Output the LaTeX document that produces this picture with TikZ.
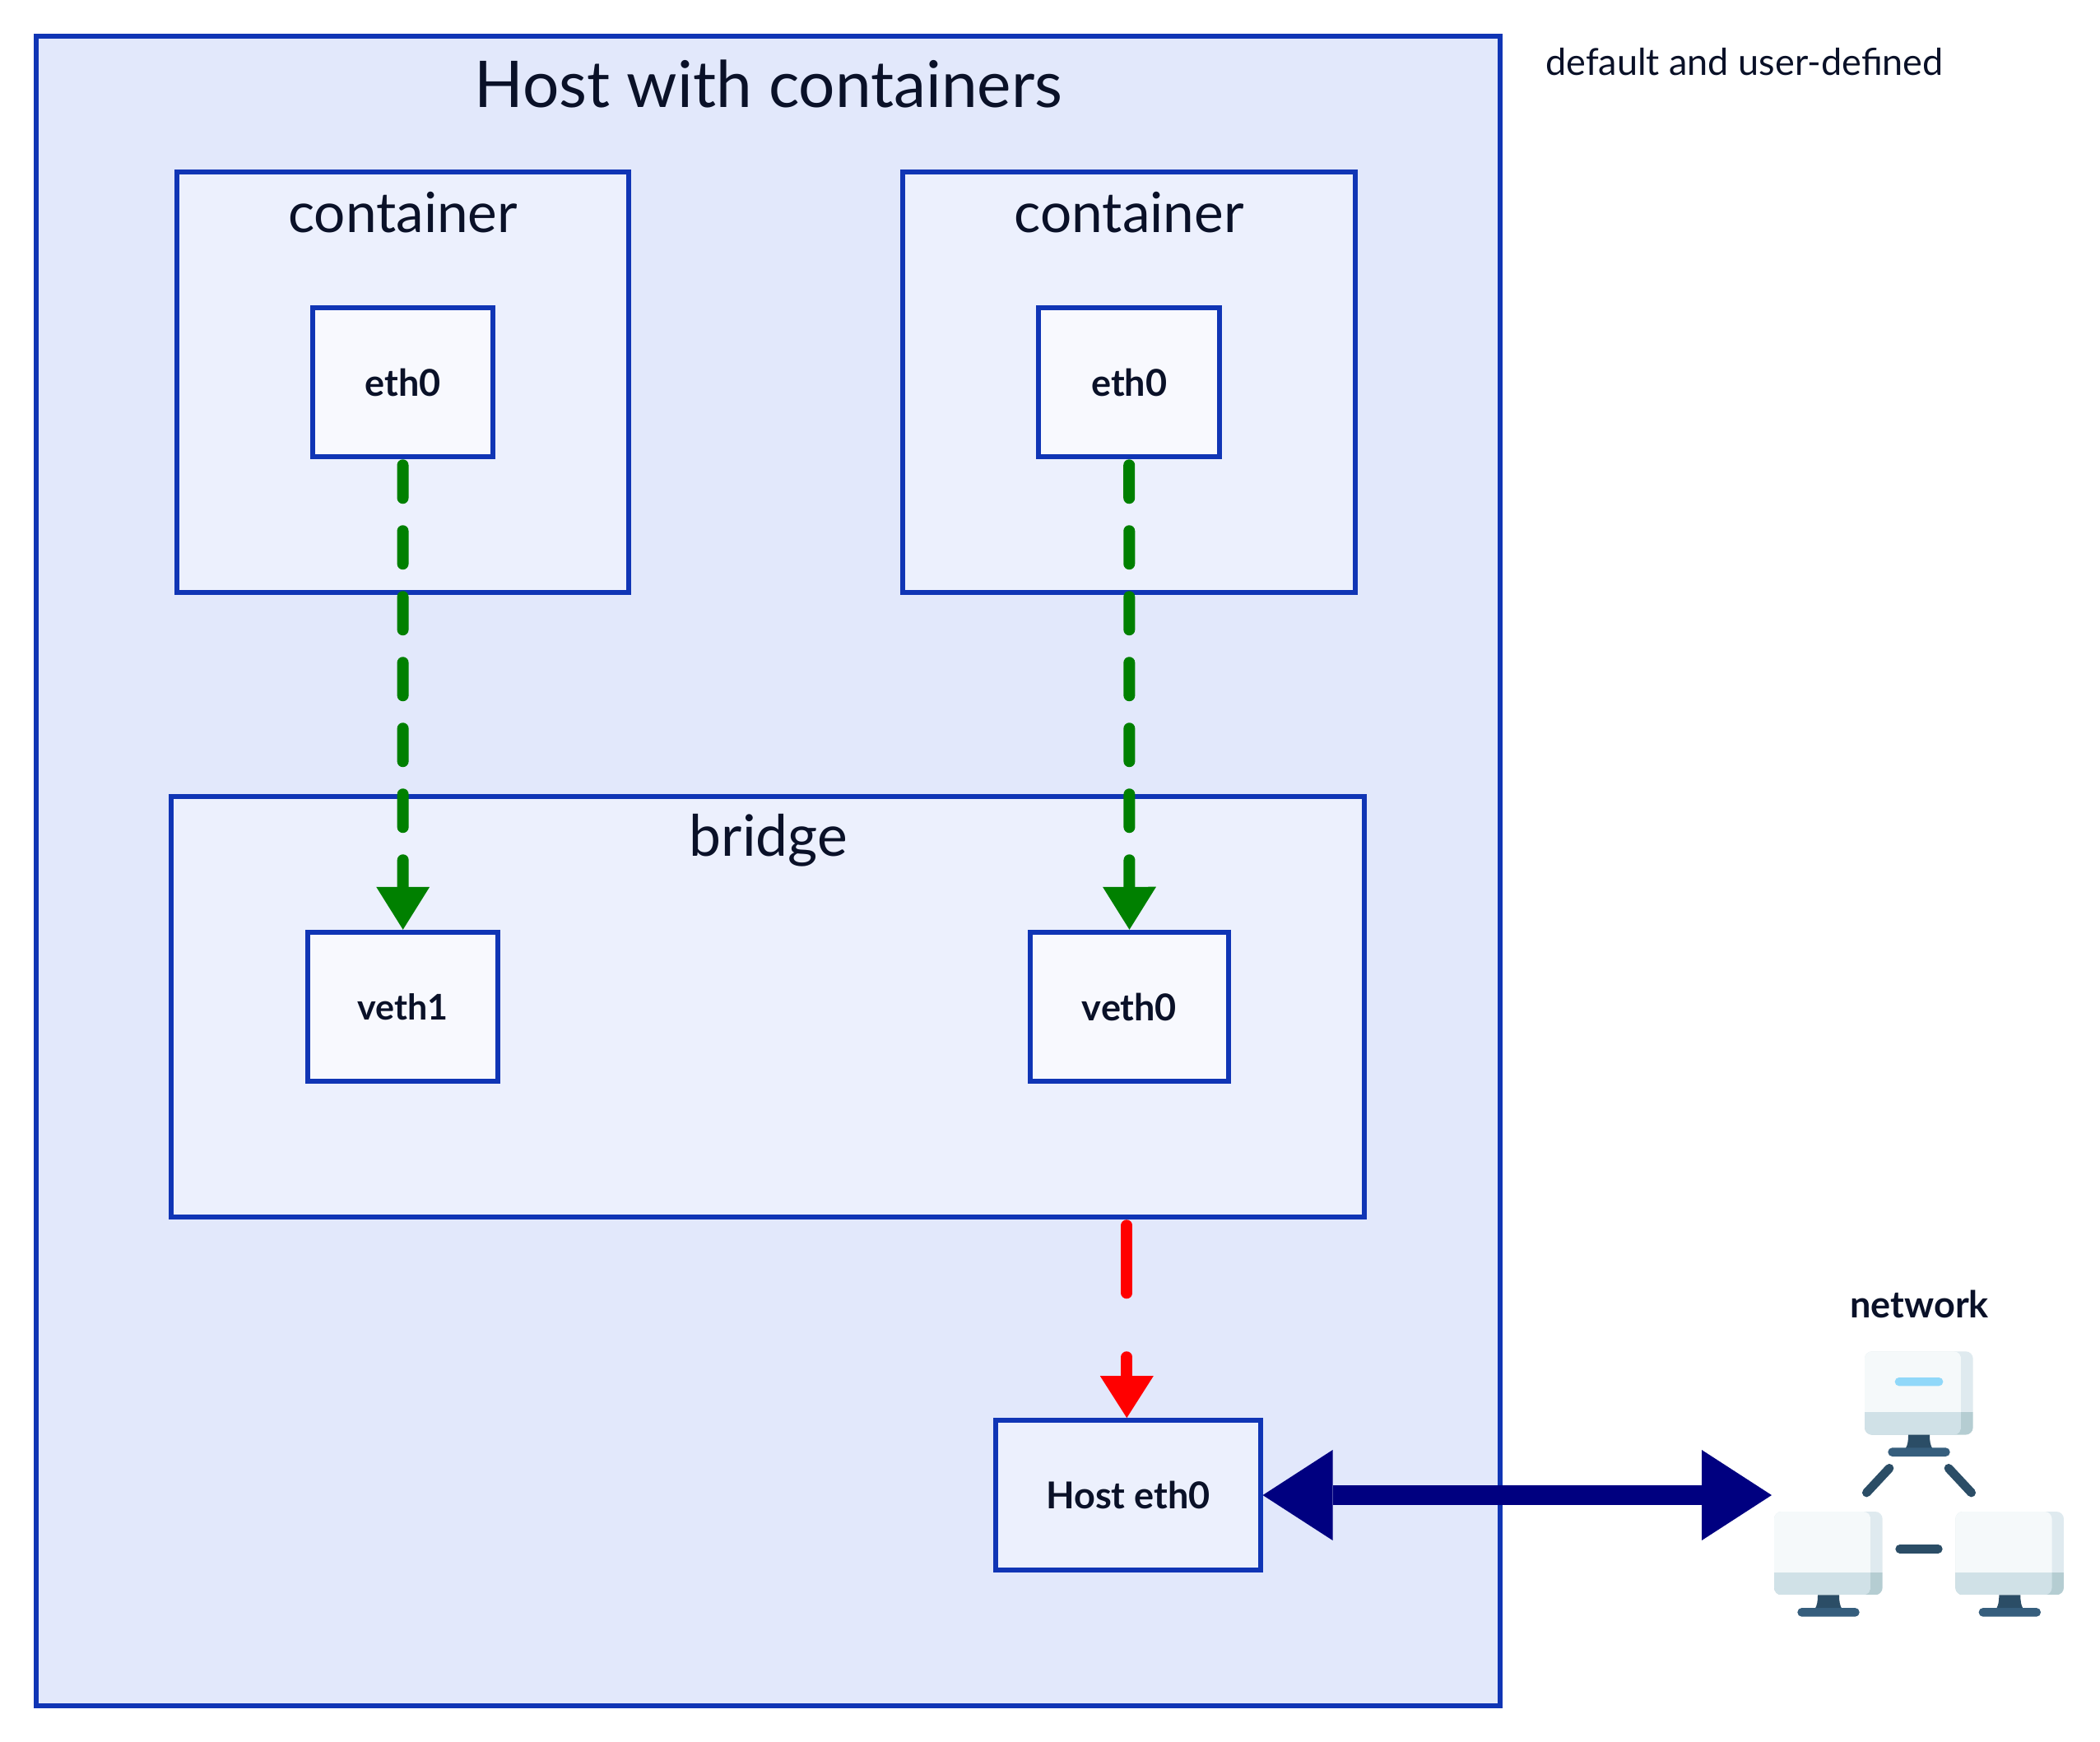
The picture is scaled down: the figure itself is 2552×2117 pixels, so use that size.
\documentclass[tikz,border=0pt]{standalone}
\usepackage{fontspec}
\setmainfont{Lato}
\usetikzlibrary{arrows.meta}
\definecolor{hostfill}{HTML}{E2E8FB}
\definecolor{contfill}{HTML}{ECF0FD}
\definecolor{innerfill}{HTML}{F8F9FE}
\definecolor{edgeblue}{HTML}{1035B5}
\definecolor{ink}{HTML}{0A1128}
\definecolor{linkgreen}{HTML}{008000}
\definecolor{linkred}{HTML}{FF0000}
\definecolor{linknavy}{HTML}{000080}
\definecolor{pcface}{HTML}{F5F9FA}
\definecolor{pcside}{HTML}{DFEAEF}
\definecolor{pcchin}{HTML}{D0E1E7}
\definecolor{pcchinside}{HTML}{B5CDD2}
\definecolor{pcstand}{HTML}{2B4D66}
\definecolor{pcbase}{HTML}{365E7D}
\definecolor{pcbar}{HTML}{90D8F9}
\tikzset{
  frame/.style={draw=edgeblue,line width=5.8pt,line join=miter,text=ink,font=\fontsize{45}{54}\selectfont\bfseries,inner sep=0pt},
  hostbox/.style={frame,fill=hostfill},
  contbox/.style={frame,fill=contfill},
  innerbox/.style={frame,fill=innerfill},
  caption/.style={anchor=base,inner sep=0pt,text=ink},
  greenlink/.style={draw=linkgreen,line width=14pt,line cap=round,dash pattern=on 40pt off 40pt,shorten <=7pt,-{Triangle[length=52pt,width=65pt,line width=0pt,fill=linkgreen]}},
  redlink/.style={draw=linkred,line width=14pt,line cap=round,dash pattern=on 82pt off 78pt,shorten <=7pt,-{Triangle[length=51pt,width=65pt,line width=0pt,fill=linkred]}},
  navylink/.style={draw=linknavy,line width=24.7pt,{Triangle[length=85pt,width=110pt,line width=0pt,fill=linknavy]}-{Triangle[length=85pt,width=110pt,line width=0pt,fill=linknavy]}},
  netlink/.style={draw=pcstand,line width=10.7pt,line cap=round},
  monitor/.pic={
    \begin{scope}
      \clip[rounded corners=9pt] (0,0) rectangle (131.7,101.3);
      \fill[pcside] (0,0) rectangle (131.7,73.7);
      \fill[pcchinside] (0,73.7) rectangle (131.7,101.3);
      \clip[rounded corners=9pt] (0,0) rectangle (117.3,101.3);
      \fill[pcface] (0,0) rectangle (117.3,73.7);
      \fill[pcchin] (0,73.7) rectangle (117.3,101.3);
    \end{scope}
    \fill[pcstand] (53,101.3) -- (79,101.3) .. controls (79,110) and (80,114) .. (82.3,118) -- (49.7,118) .. controls (52,114) and (53,110) .. (53,101.3) -- cycle;
    \fill[pcbase,rounded corners=5.3pt] (28.3,117) rectangle (103.7,127.7);
  }
}
\begin{document}
\begin{tikzpicture}[x=1pt,y=-1pt]
\useasboundingbox (0,0) rectangle (2552,2117);
\fill[white] (0,0) rectangle (2552,2117);

\node[hostbox,minimum width=1779.7pt,minimum height=2029.7pt] (host) at (933.5,1058.5) {};
\node[caption,font=\fontsize{78.3}{90}\selectfont] (hosttitle) at (934,130) {Host with containers};

\node[contbox,minimum width=549.7pt,minimum height=511.7pt] (contL) at (489.5,464.5) {};
\node[contbox,minimum width=549.7pt,minimum height=511.7pt] (contR) at (1372.2,464.5) {};
\node[caption,font=\fontsize{67.5}{80}\selectfont] (contLt) at (489.5,282) {container};
\node[caption,font=\fontsize{67.5}{80}\selectfont] (contRt) at (1372.2,282) {container};
\node[innerbox,minimum width=219.7pt,minimum height=181.7pt] (ethL) at (489.5,464.5) {eth0};
\node[innerbox,minimum width=219.7pt,minimum height=181.7pt] (ethR) at (1372.2,464.5) {eth0};

\node[contbox,minimum width=1449.7pt,minimum height=511.7pt] (bridge) at (933.2,1223.5) {};
\node[caption,font=\fontsize{69.5}{80}\selectfont] (bridget) at (934,1040) {bridge};
\node[innerbox,minimum width=230.7pt,minimum height=181.7pt,font=\fontsize{43}{52}\selectfont\bfseries] (vethL) at (489.7,1223.5) {veth1};
\node[innerbox,minimum width=241.7pt,minimum height=181.7pt] (vethR) at (1372.5,1223.5) {veth0};

\node[contbox,minimum width=321.7pt,minimum height=182pt] (heth) at (1370.8,1817) {Host eth0};

\node[caption,font=\fontsize{45}{54}\selectfont] (deflabel) at (2120,92) {default and user-defined};
\node[caption,font=\fontsize{45}{54}\selectfont\bfseries] (netlabel) at (2332.7,1601) {network};

\draw[greenlink] (ethL.south) -- (vethL.north);
\draw[greenlink] (ethR.south) -- (vethR.north);
\coordinate (redend) at ([xshift=-1.5pt]heth.north);
\coordinate (redstart) at (bridge.south -| redend);
\draw[redlink] (redstart) -- (redend);
\coordinate (netend) at (2153,1817);
\draw[navylink] (heth.east) -- (netend);

\pic at (2266,1642.3) {monitor};
\pic at (2156,1837) {monitor};
\pic at (2376.3,1837) {monitor};
\fill[pcbar,rounded corners=5pt] (2302.7,1674) rectangle (2361.3,1684.3);
\coordinate (a1) at (2268.3,1814); \coordinate (a2) at (2296,1784.3);
\coordinate (b1) at (2368,1784.3); \coordinate (b2) at (2395.7,1814);
\coordinate (c1) at (2308.7,1882.3); \coordinate (c2) at (2355.3,1882.3);
\draw[netlink] (a1) -- (a2);
\draw[netlink] (b1) -- (b2);
\draw[netlink] (c1) -- (c2);
\end{tikzpicture}
\end{document}
